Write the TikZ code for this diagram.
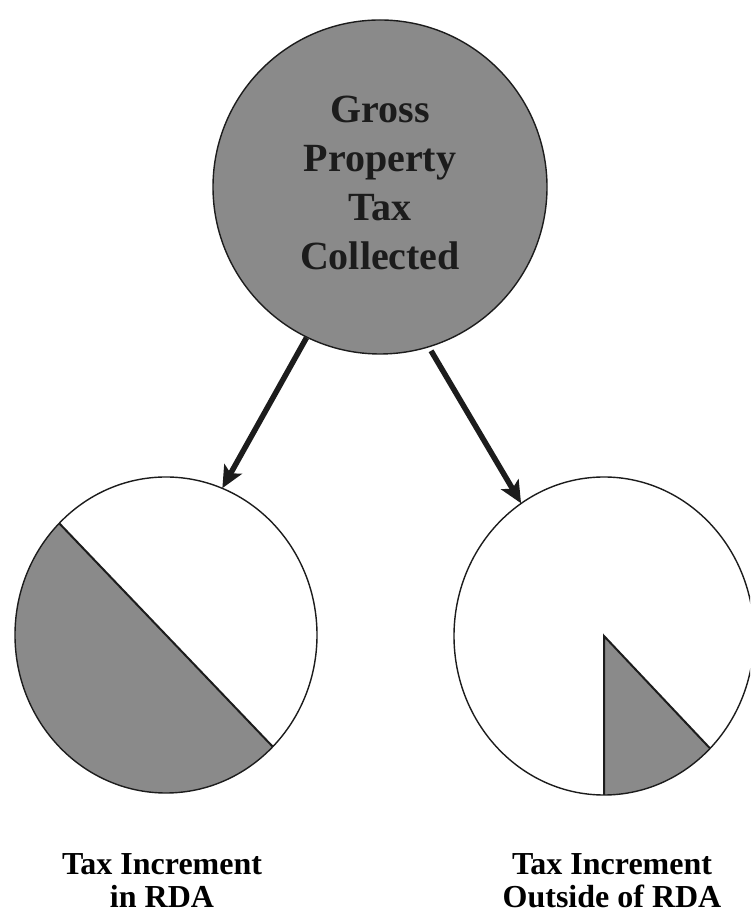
\documentclass[tikz,border=0pt]{standalone}
\usepackage{fontspec}
\setmainfont{Liberation Serif}
\usetikzlibrary{arrows.meta,shapes.geometric,calc}
\definecolor{greytone}{RGB}{138,138,138}
\definecolor{ink}{RGB}{28,28,28}
\begin{document}
\begin{tikzpicture}[x=1pt,y=1pt,
  disc/.style={draw=ink, line width=1.4pt},
  cut/.style={draw=ink, line width=2pt},
  flow/.style={draw=ink, line width=5.5pt, -{Stealth[length=22pt,width=20pt,inset=5pt]}},
  lbl/.style={font=\bfseries\fontsize{32}{33.5}\selectfont, align=center, text=black, inner sep=0pt},
  title/.style={font=\bfseries\fontsize{40}{49.3}\selectfont, align=center, text=ink, inner sep=0pt}]
\useasboundingbox (0,0) rectangle (750,915);
\clip (0,0) rectangle (750,915);
\fill[white] (0,0) rectangle (750,915);

% top circle
\node[circle, disc, fill=greytone, minimum size=334pt, inner sep=0pt] (gross) at (380,728) {};
\node[title, anchor=base] (grosstext) at (380,645) {Gross\\Property\\Tax\\Collected};

% left pie: half shaded
\node[ellipse, minimum width=302pt, minimum height=316pt, inner sep=0pt] (inrda) at (166,280) {};
\fill[greytone] ($(inrda.center)+(135:151pt and 158pt)$) arc[start angle=135, end angle=315, x radius=151pt, y radius=158pt] -- cycle;
\draw[cut] ($(inrda.center)+(135:151pt and 158pt)$) -- ($(inrda.center)+(315:151pt and 158pt)$);
\draw[disc] (inrda.center) ellipse [x radius=151pt, y radius=158pt];

% right pie: small wedge
\node[ellipse, minimum width=300pt, minimum height=318pt, inner sep=0pt] (outside) at (604,279) {};
\fill[greytone] (outside.center) -- ($(outside.center)+(270:150pt and 159pt)$) arc[start angle=270, end angle=315, x radius=150pt, y radius=159pt] -- cycle;
\draw[cut] ($(outside.center)+(270:150pt and 159pt)$) -- (outside.center) -- ($(outside.center)+(315:150pt and 159pt)$);
\draw[disc] (outside.center) ellipse [x radius=150pt, y radius=159pt];

% arrows
\draw[flow] (gross.244) -- (inrda.69);
\draw[flow, shorten <=4pt] (gross.287) -- (outside.122);

% labels
\node[lbl, anchor=base] (leftlabel) at (162,7) {Tax Increment\\in RDA};
\node[lbl, anchor=base] (rightlabel) at (612,7) {Tax Increment\\Outside of RDA};
\end{tikzpicture}
\end{document}
